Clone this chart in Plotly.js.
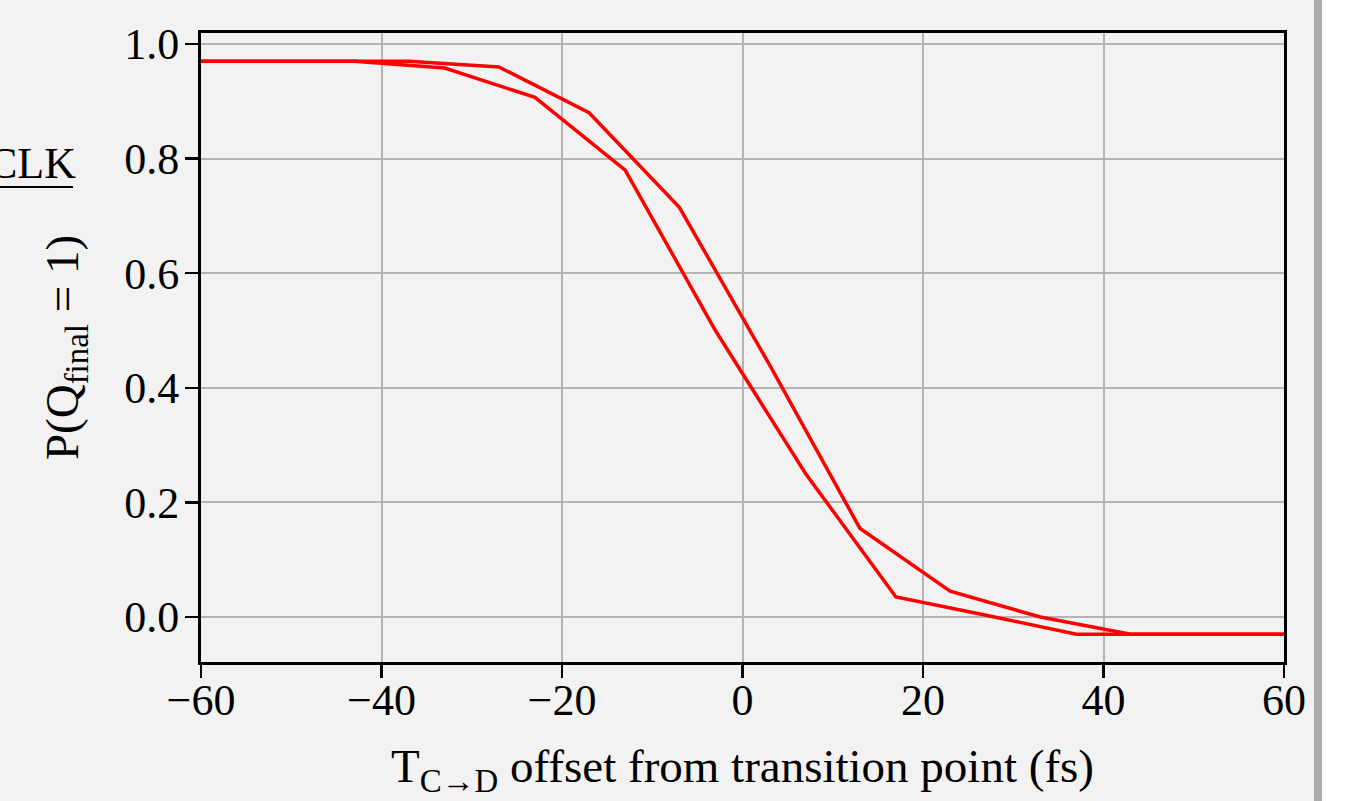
<!DOCTYPE html>
<html>
<head>
<meta charset="utf-8">
<script src="https://cdn.plot.ly/plotly-3.0.1.min.js"></script>
<style>
  html, body { margin: 0; padding: 0; background: #ffffff; overflow: hidden; }
  #wrap { position: relative; width: 1360px; height: 801px; }
  #chart { position: absolute; left: 0; top: 0; width: 1314px; height: 801px; }
  #bar { position: absolute; left: 1314px; top: 0; width: 8px; height: 801px; background: #b0acac; }
</style>
</head>
<body>
<div id="wrap">
  <div id="chart"></div>
  <div id="bar"></div>
</div>
<script>
// Branch A (right / upper branch of the hysteresis loop)
const branchA_x = [-60, -47, -37, -27, -17, -7, 3, 13, 23, 33, 43, 53, 60];
const branchA_y = [0.97, 0.97, 0.97, 0.96, 0.88, 0.715, 0.44, 0.155, 0.045, 0.0, -0.03, -0.03, -0.03];
// Branch B (left / lower branch of the hysteresis loop)
const branchB_x = [60, 47, 37, 27, 17, 7, -3, -13, -23, -33, -43, -53, -60];
const branchB_y = [-0.03, -0.03, -0.03, 0.003, 0.035, 0.25, 0.50, 0.78, 0.907, 0.958, 0.97, 0.97, 0.97];

const xTicks = [-60, -40, -20, 0, 20, 40, 60];
const yTicks = [0.0, 0.2, 0.4, 0.6, 0.8, 1.0];

const FONT = '"Liberation Serif", "Times New Roman", serif';
const lineStyle = {color: '#ff0000', width: 3.5};

const traces = [
  {x: branchA_x, y: branchA_y, mode: 'lines', line: lineStyle, showlegend: false, hoverinfo: 'skip'},
  {x: branchB_x, y: branchB_y, mode: 'lines', line: lineStyle, showlegend: false, hoverinfo: 'skip'}
];

const layout = {
  width: 1314, height: 801,
  margin: {l: 201, r: 30, t: 33, b: 139},
  paper_bgcolor: '#f2f2f2',
  plot_bgcolor: '#f2f2f2',
  font: {family: FONT, color: '#000000', size: 44},
  xaxis: {
    range: [-60, 60],
    tickvals: xTicks,
    showgrid: true, gridcolor: '#b4b4b4', gridwidth: 2,
    zeroline: false,
    showline: true, linecolor: '#000000', linewidth: 3, mirror: true,
    ticks: 'outside', ticklen: 13, tickwidth: 2.5, tickcolor: '#000000',
    ticklabelstandoff: -16,
    tickfont: {family: FONT, size: 44},
    title: {text: 'T<sub>C→D</sub> offset from transition point (fs)', font: {family: FONT, size: 47}, standoff: 26}
  },
  yaxis: {
    range: [-0.0785, 1.0192],
    tickvals: yTicks,
    tickformat: '.1f',
    showgrid: true, gridcolor: '#b4b4b4', gridwidth: 2,
    zeroline: false,
    showline: true, linecolor: '#000000', linewidth: 3, mirror: true,
    ticks: 'outside', ticklen: 13, tickwidth: 2.5, tickcolor: '#000000',
    ticklabelstandoff: -3,
    tickfont: {family: FONT, size: 44},
    title: {text: 'P(Q<sub>final</sub> = 1)', font: {family: FONT, size: 47}, standoff: 31}
  },
  annotations: [
    {text: 'CLK', xref: 'paper', yref: 'paper', x: -201/1083 - 14/1083, y: 1 - (190-33)/629,
     xanchor: 'left', yanchor: 'bottom', showarrow: false,
     font: {family: FONT, size: 44, color: '#000000'}}
  ],
  shapes: [
    {type: 'line', xref: 'paper', yref: 'paper', x0: -201/1083, x1: (73-201)/1083,
     y0: 1 - (187-33)/629, y1: 1 - (187-33)/629, line: {color: '#000000', width: 2}}
  ]
};

Plotly.newPlot('chart', traces, layout, {displayModeBar: false, staticPlot: true});
</script>
</body>
</html>
